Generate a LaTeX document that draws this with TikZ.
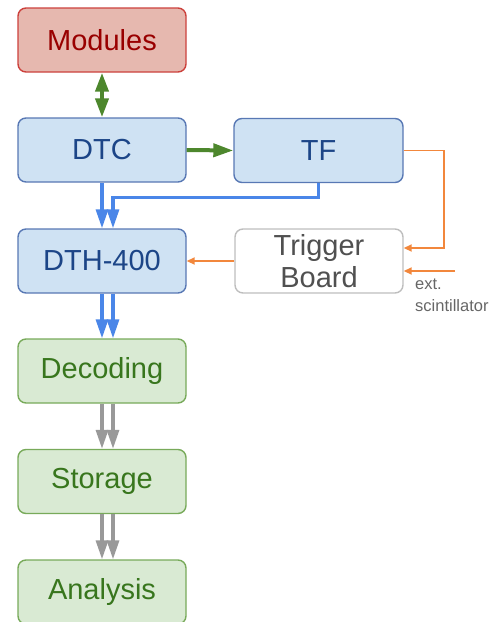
\documentclass[tikz,border=0pt]{standalone}
\usepackage{fontspec}
\setmainfont{Liberation Sans}
\usetikzlibrary{arrows.meta}
\definecolor{modfill}{RGB}{230,184,175}
\definecolor{moddraw}{RGB}{204,65,60}
\definecolor{modtext}{RGB}{153,0,0}
\definecolor{bfill}{RGB}{207,226,243}
\definecolor{bdraw}{RGB}{88,120,180}
\definecolor{btext}{RGB}{28,69,135}
\definecolor{gfill}{RGB}{217,234,211}
\definecolor{gdraw}{RGB}{120,170,90}
\definecolor{gtext}{RGB}{56,118,29}
\definecolor{tdraw}{RGB}{190,190,190}
\definecolor{ttext}{RGB}{80,80,80}
\definecolor{arrgreen}{RGB}{77,135,45}
\definecolor{arrblue}{RGB}{74,134,232}
\definecolor{arrgray}{RGB}{153,153,153}
\definecolor{arrorange}{RGB}{242,135,60}
\definecolor{labgray}{RGB}{102,102,102}
\tikzset{
  box/.style={rectangle, rounded corners=8pt, line width=1.4pt, minimum width=168pt, minimum height=64pt, inner sep=0pt, font=\fontsize{29}{32}\selectfont, align=center},
  modbox/.style={box, fill=modfill, draw=moddraw, text=modtext},
  bluebox/.style={box, fill=bfill, draw=bdraw, text=btext},
  greenbox/.style={box, fill=gfill, draw=gdraw, text=gtext},
  trigbox/.style={box, fill=white, draw=tdraw, text=ttext},
  garrow/.style={draw=arrgreen, line width=4pt, -{Triangle[length=20pt,width=13pt]}},
  gdarrow/.style={draw=arrgreen, line width=4pt, {Triangle[length=19pt,width=13pt]}-{Triangle[length=19pt,width=13pt]}},
  barrow/.style={draw=arrblue, line width=3.2pt, -{Triangle[length=19pt,width=12pt]}},
  grarrow/.style={draw=arrgray, line width=3.2pt, -{Triangle[length=19pt,width=12pt]}},
  oarrow/.style={draw=arrorange, line width=1.8pt, -{Triangle[length=8pt,width=7pt]}},
}
\begin{document}
\begin{tikzpicture}[x=1pt,y=-1pt]
\useasboundingbox (0,0) rectangle (493,622);
\node[modbox] (mod) at (102,40) {Modules};
\node[bluebox] (dtc) at (102,150) {DTC};
\node[bluebox, minimum width=169pt] (tf) at (318.5,150.5) {TF};
\node[bluebox] (dth) at (102,261) {DTH-400};
\node[trigbox] (trig) at (319,261) {Trigger\\Board};
\node[greenbox] (dec) at (102,371) {Decoding};
\node[greenbox] (sto) at (102,481.5) {Storage};
\node[greenbox] (ana) at (102,592) {Analysis};
\node[anchor=north west, align=left, inner sep=0pt, text=labgray, font=\fontsize{16.5}{22}\selectfont] (extlab) at (415,279) {ext.\\scintillator};
% green
\draw[gdarrow] (mod.south) -- (dtc.north);
\draw[garrow] (dtc.east) -- (tf.west);
% blue
\draw[barrow] (dtc.south) -- (dth.north);
\draw[barrow] (tf.south) -- ++(0,14) -| ([xshift=11pt]dth.north);
\draw[barrow] (dth.south) -- (dec.north);
\draw[barrow] ([xshift=11pt]dth.south) -- ([xshift=11pt]dec.north);
% gray
\draw[grarrow] (dec.south) -- (sto.north);
\draw[grarrow] ([xshift=11pt]dec.south) -- ([xshift=11pt]sto.north);
\draw[grarrow] (sto.south) -- (ana.north);
\draw[grarrow] ([xshift=11pt]sto.south) -- ([xshift=11pt]ana.north);
% orange
\draw[oarrow] (tf.east) -- ++(40,0) |- ([yshift=13pt]trig.east);
\coordinate (ext) at (455,271);
\draw[oarrow] (ext) -- (ext -| trig.east);
\draw[oarrow] (trig.west) -- (dth.east);
\end{tikzpicture}
\end{document}
